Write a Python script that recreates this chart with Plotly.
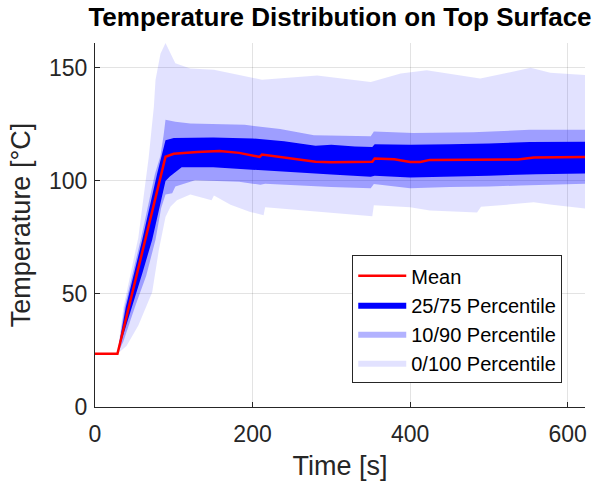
import plotly.graph_objects as go

# ---- data: time [s] and temperature [°C] ----
mean_t = [0, 28.5, 89.5, 100, 130, 158, 183, 205, 209, 212, 235, 257, 280, 300, 330,
          352, 355, 380, 400, 413, 425, 450, 489, 510, 537, 557, 590, 622]
mean_v = [23.5, 23.5, 110.7, 112.0, 112.8, 113.2, 112.4, 111.0, 110.6, 111.7, 110.6, 109.4,
          108.5, 108.3, 108.4, 108.5, 109.9, 109.6, 108.4, 108.4, 109.3, 109.4, 109.5, 109.6,
          109.5, 110.4, 110.5, 110.6]

p75_t = [0, 28.5, 39, 60, 79, 86, 89.5, 100, 150, 200, 240, 280, 300, 330, 352, 355,
         400, 450, 500, 552, 622]
p75_v = [23.5, 23.5, 44, 74, 103.4, 114, 118, 119, 119.2, 118.8, 117.5, 115.5, 116, 115.2,
         115, 116.2, 116, 116.2, 116.5, 117.2, 117.3]

p25_t = [0, 28.5, 35, 47, 60, 72.6, 82, 89.5, 95, 110, 150, 200, 250, 300, 350, 355,
         400, 450, 500, 560, 622]
p25_v = [23.5, 23.5, 30.5, 44.6, 59, 74, 88, 100, 102, 106, 106, 105, 103.8, 102.8, 101.8,
         102.3, 101.5, 101.8, 102.3, 103, 103.3]

p90_t = [0, 28.5, 37.5, 58, 76, 83, 87, 89.5, 102, 121, 190, 235, 278, 350, 354, 404,
         480, 552, 622]
p90_v = [23.5, 23.5, 44, 74, 103, 111, 120, 127, 126.2, 125.4, 124.8, 123, 120.2, 119.8,
         121.9, 121.2, 121.5, 122.6, 122.6]

p10_t = [0, 28.5, 36, 51, 65, 76.8, 84, 89.5, 98, 102, 127, 183, 210, 216, 257, 300, 350,
         354, 400, 450, 500, 540, 622]
p10_v = [23.5, 23.5, 29, 44.6, 58, 74, 88, 94, 94.5, 97.5, 100.3, 99.6, 98.3, 98.8, 98,
         97.3, 96.7, 98.6, 96.8, 97.3, 97.5, 98, 98.8]

max_t = [0, 28.5, 36, 55, 68, 74.7, 76.8, 83.1, 89.5, 102, 121, 151, 212, 282, 350, 388,
         421, 489, 553, 578, 622]
max_v = [23.5, 23.5, 44, 75, 110, 132.8, 144.6, 156.3, 161, 152, 149.7, 149.2, 144.8, 146.6,
         143.8, 147.5, 149, 145.3, 150, 147.8, 146.8]

min_t = [0, 28.5, 40, 55, 72.6, 81, 89.5, 96, 104, 121, 148, 151, 172, 197, 214, 216, 235,
         260, 300, 352, 354, 400, 425, 485, 490, 523, 557, 580, 622]
min_v = [23.5, 23.5, 27, 36, 50.7, 69.3, 84, 88.7, 91.4, 94, 91.4, 93.5, 89.5, 86.3, 84.8,
         88.3, 87.8, 87, 86, 84.4, 89.2, 88.4, 86.9, 86, 88.6, 89.5, 90.6, 89.5, 87.8]

x_ticks = [0, 200, 400, 600]
y_ticks = [0, 50, 100, 150]

FONT = "Liberation Sans, Arial, Helvetica, sans-serif"
TXT = "#262626"


def band(t_hi, v_hi, t_lo, v_lo):
    """Closed polygon: upper edge forward, lower edge backward."""
    return list(t_hi) + list(t_lo)[::-1], list(v_hi) + list(v_lo)[::-1]


fig = go.Figure()

bx, by = band(max_t, max_v, min_t, min_v)
fig.add_trace(go.Scatter(x=bx, y=by, fill="toself", mode="lines",
                         fillcolor="rgba(0,0,255,0.115)", line=dict(width=0),
                         name="0/100 Percentile", legendrank=4, hoverinfo="skip"))

bx, by = band(p90_t, p90_v, p10_t, p10_v)
fig.add_trace(go.Scatter(x=bx, y=by, fill="toself", mode="lines",
                         fillcolor="rgba(0,0,255,0.30)", line=dict(width=0),
                         name="10/90 Percentile", legendrank=3, hoverinfo="skip"))

bx, by = band(p75_t, p75_v, p25_t, p25_v)
fig.add_trace(go.Scatter(x=bx, y=by, fill="toself", mode="lines",
                         fillcolor="rgb(0,0,255)", line=dict(width=0),
                         name="25/75 Percentile", legendrank=2, hoverinfo="skip"))

fig.add_trace(go.Scatter(x=mean_t, y=mean_v, mode="lines",
                         line=dict(color="rgb(255,0,0)", width=2.5),
                         name="Mean", legendrank=1))

axis_common = dict(
    showline=True, linecolor=TXT, linewidth=1,
    ticks="inside", ticklen=5, tickwidth=1, tickcolor=TXT,
    showgrid=True, gridcolor="rgba(38,38,38,0.13)", gridwidth=1,
    zeroline=False, mirror=False, automargin=False,
    tickfont=dict(family=FONT, size=23, color=TXT),
)

fig.update_layout(
    width=602, height=481,
    margin=dict(l=95, r=17, t=43, b=74),
    paper_bgcolor="white", plot_bgcolor="white",
    title=dict(text="<b>Temperature Distribution on Top Surface</b>",
               font=dict(family=FONT, size=26, color="black"),
               x=0.5, xref="paper", xanchor="center",
               y=1 - 8 / 481, yref="container", yanchor="top"),
    xaxis=dict(range=[0, 622], tickvals=x_ticks, ticklabelstandoff=6,
               title=dict(text="Time [s]", font=dict(family=FONT, size=27, color=TXT)),
               **axis_common),
    yaxis=dict(range=[0, 161], tickvals=y_ticks, ticklabelstandoff=2,
               title=dict(text="Temperature [°C]", font=dict(family=FONT, size=27, color=TXT),
                          standoff=10),
               **axis_common),
    legend=dict(x=0.525, y=0.417, xanchor="left", yanchor="top",
                bgcolor="white", bordercolor=TXT, borderwidth=1,
                font=dict(family=FONT, size=20, color="black"),
                traceorder="normal", itemwidth=48, tracegroupgap=0),
    showlegend=True,
)

fig.write_html("out.html")
